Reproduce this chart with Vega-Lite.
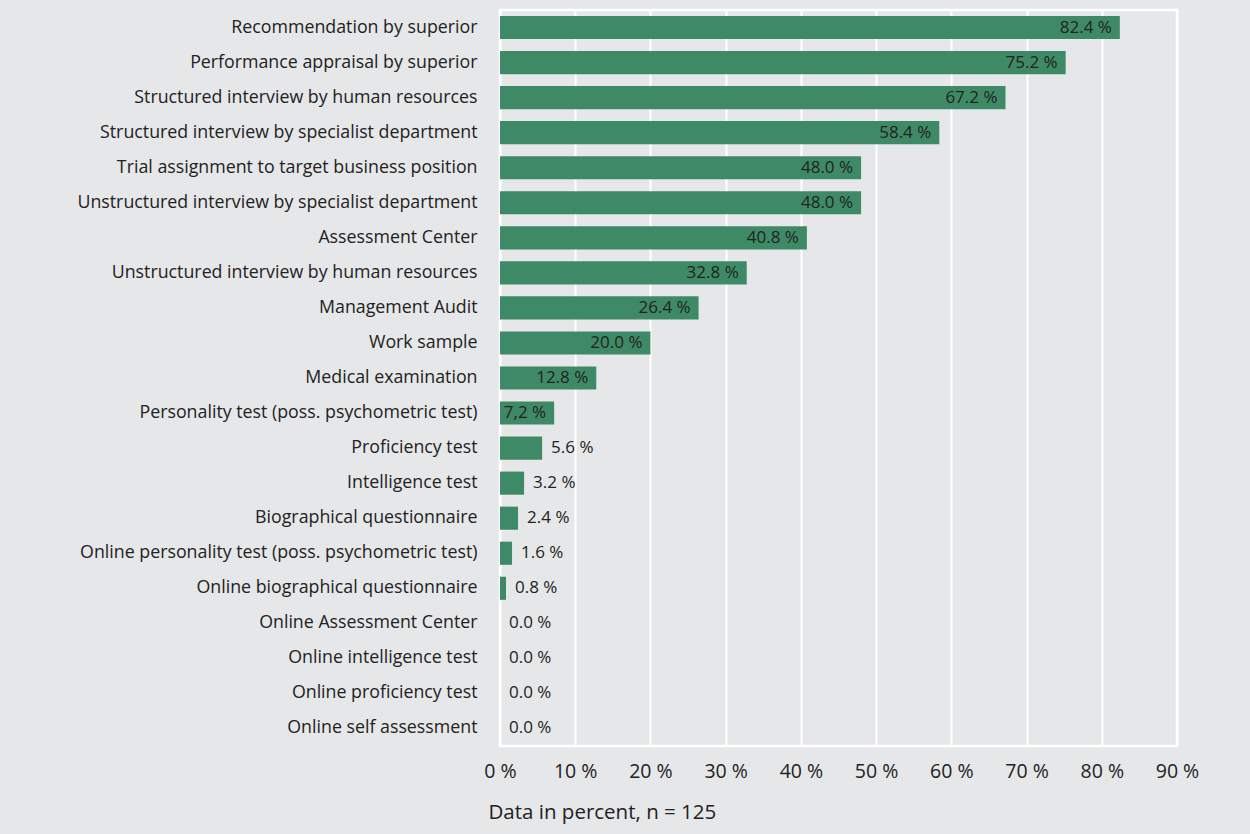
{
  "$schema": "https://vega.github.io/schema/vega-lite/v6.json",
  "width": 677,
  "height": 736,
  "autosize": {"type": "none"},
  "padding": {"left": 500, "top": 10, "right": 73, "bottom": 88},
  "background": "#e6e7e9",
  "config": {
    "view": {"stroke": "#ffffff", "strokeWidth": 2.5, "fill": "#e6e7e9"},
    "font": "Open Sans"
  },
  "data": {
    "values": [
      {"method": "Recommendation by superior", "value": 82.4, "label": "82.4 %"},
      {"method": "Performance appraisal by superior", "value": 75.2, "label": "75.2 %"},
      {"method": "Structured interview by human resources", "value": 67.2, "label": "67.2 %"},
      {"method": "Structured interview by specialist department", "value": 58.4, "label": "58.4 %"},
      {"method": "Trial assignment to target business position", "value": 48.0, "label": "48.0 %"},
      {"method": "Unstructured interview by specialist department", "value": 48.0, "label": "48.0 %"},
      {"method": "Assessment Center", "value": 40.8, "label": "40.8 %"},
      {"method": "Unstructured interview by human resources", "value": 32.8, "label": "32.8 %"},
      {"method": "Management Audit", "value": 26.4, "label": "26.4 %"},
      {"method": "Work sample", "value": 20.0, "label": "20.0 %"},
      {"method": "Medical examination", "value": 12.8, "label": "12.8 %"},
      {"method": "Personality test (poss. psychometric test)", "value": 7.2, "label": "7,2 %"},
      {"method": "Proficiency test", "value": 5.6, "label": "5.6 %"},
      {"method": "Intelligence test", "value": 3.2, "label": "3.2 %"},
      {"method": "Biographical questionnaire", "value": 2.4, "label": "2.4 %"},
      {"method": "Online personality test (poss. psychometric test)", "value": 1.6, "label": "1.6 %"},
      {"method": "Online biographical questionnaire", "value": 0.8, "label": "0.8 %"},
      {"method": "Online Assessment Center", "value": 0.0, "label": "0.0 %"},
      {"method": "Online intelligence test", "value": 0.0, "label": "0.0 %"},
      {"method": "Online proficiency test", "value": 0.0, "label": "0.0 %"},
      {"method": "Online self assessment", "value": 0.0, "label": "0.0 %"}
    ]
  },
  "encoding": {
    "y": {
      "field": "method",
      "type": "nominal",
      "sort": null,
      "scale": {"paddingInner": 0.34, "paddingOuter": 0.17},
      "axis": {
        "title": null,
        "domain": false,
        "ticks": false,
        "labelPadding": 23,
        "labelFontSize": 17.8,
        "labelColor": "#222222",
        "labelLimit": 480,
        "labelFont": "Open Sans"
      }
    },
    "x": {
      "field": "value",
      "type": "quantitative",
      "scale": {"domain": [0, 90], "nice": false},
      "axis": {
        "values": [0, 10, 20, 30, 40, 50, 60, 70, 80, 90],
        "labelExpr": "datum.value + ' %'",
        "labelFlush": false,
        "labelAlign": "center",
        "grid": true,
        "gridColor": "#ffffff",
        "gridWidth": 2,
        "gridOpacity": 1,
        "domain": false,
        "ticks": false,
        "labelPadding": 16,
        "labelFontSize": 19.5,
        "labelColor": "#222222",
        "title": "Data in percent, n = 125",
        "titleFontSize": 20.5,
        "titleFontWeight": "normal",
        "titleColor": "#222222",
        "titleAnchor": "start",
        "titleX": -12,
        "titlePadding": 22,
        "titleAlign": "left"
      }
    }
  },
  "layer": [
    {
      "mark": {"type": "bar", "color": "#3f8a66"}
    },
    {
      "transform": [{"filter": "datum.value >= 7"}],
      "mark": {"type": "text", "align": "right", "dx": -8, "fontSize": 17, "color": "#222222", "baseline": "middle"},
      "encoding": {"text": {"field": "label"}}
    },
    {
      "transform": [{"filter": "datum.value < 7"}],
      "mark": {"type": "text", "align": "left", "dx": 9, "fontSize": 17, "color": "#222222", "baseline": "middle"},
      "encoding": {"text": {"field": "label"}}
    }
  ]
}
